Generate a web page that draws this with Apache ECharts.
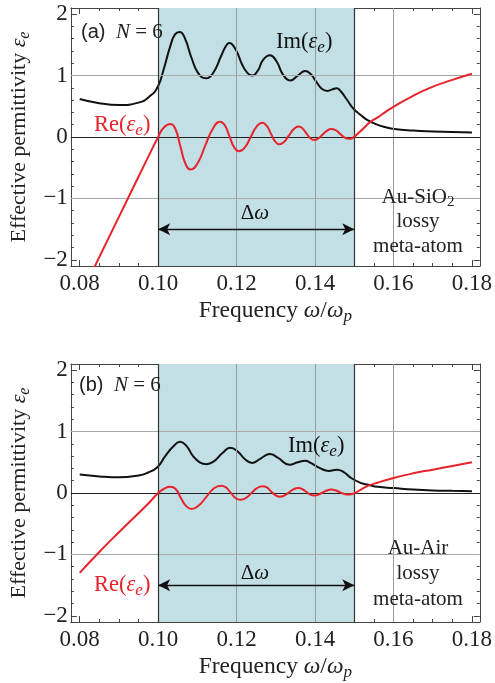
<!DOCTYPE html>
<html><head><meta charset="utf-8">
<script src="https://cdn.jsdelivr.net/npm/echarts@6/dist/echarts.min.js"></script>
<style>html,body{margin:0;padding:0;background:#fff}#c{width:495px;height:683px}</style>
</head><body><div id="c"></div>
<script>
// ---------- tick / grid data ----------
const xMajor = [0.08, 0.10, 0.12, 0.14, 0.16, 0.18];
const xMinor = [0.085, 0.09, 0.095, 0.105, 0.11, 0.115, 0.125, 0.13, 0.135, 0.145, 0.15, 0.155, 0.165, 0.17, 0.175];
const yMajor = [-2, -1, 0, 1, 2];
const yMinor = [-1.8, -1.6, -1.4, -1.2, -0.8, -0.6, -0.4, -0.2, 0.2, 0.4, 0.6, 0.8, 1.2, 1.4, 1.6, 1.8];
const xGridLines = [0.12, 0.14, 0.16];
const yGridLines = [-1, 1];
const bandRange = [0.10, 0.15];
const arrowY = -1.5;

// ---------- panel (a): Au-SiO2  [frequency, value] ----------
const imA = [[0.08,0.62],[0.085,0.55],[0.09,0.52],[0.095,0.56],[0.098,0.67],[0.10,0.83],[0.1014,1.10],[0.1031,1.48],[0.1043,1.67],[0.1055,1.71],[0.1068,1.61],[0.1085,1.29],[0.1102,1.04],[0.1121,0.955],[0.1139,1.03],[0.116,1.31],[0.1171,1.46],[0.1181,1.53],[0.1198,1.42],[0.1214,1.18],[0.1228,1.04],[0.1240,1.00],[0.1254,1.08],[0.1268,1.26],[0.1285,1.33],[0.1302,1.23],[0.1318,1.02],[0.1337,0.92],[0.1356,1.00],[0.1375,1.075],[0.1388,1.03],[0.1402,0.91],[0.1418,0.78],[0.1432,0.75],[0.1444,0.775],[0.1455,0.795],[0.1466,0.74],[0.1481,0.61],[0.1498,0.46],[0.1518,0.35],[0.1535,0.27],[0.1555,0.21],[0.158,0.16],[0.1602,0.13],[0.165,0.105],[0.17,0.09],[0.175,0.08],[0.18,0.075]];
const reA = [[0.08,-2.61],[0.09,-1.30],[0.0975,-0.32],[0.10,0.0],[0.1014,0.15],[0.1031,0.21],[0.1044,0.13],[0.1057,-0.16],[0.1070,-0.44],[0.1083,-0.53],[0.1102,-0.41],[0.1120,-0.14],[0.1139,0.13],[0.1158,0.25],[0.1170,0.19],[0.1182,0.01],[0.1194,-0.17],[0.1206,-0.23],[0.1221,-0.17],[0.1236,0.0],[0.1251,0.17],[0.1266,0.23],[0.1277,0.18],[0.12875,0.055],[0.1298,-0.07],[0.1309,-0.12],[0.1321,-0.08],[0.13335,0.025],[0.1346,0.13],[0.1358,0.17],[0.1368,0.14],[0.1378,0.06],[0.1388,-0.02],[0.1398,-0.05],[0.1409,-0.02],[0.14195,0.04],[0.1430,0.10],[0.1441,0.13],[0.14525,0.11],[0.1464,0.05],[0.14755,-0.01],[0.1487,-0.03],[0.1497,-0.01],[0.1508,0.05],[0.1522,0.13],[0.1540,0.24],[0.1560,0.32],[0.158,0.41],[0.1602,0.50],[0.165,0.67],[0.1693,0.80],[0.175,0.93],[0.18,1.03]];

// ---------- panel (b): Au-Air  [frequency, value] ----------
const imB = [[0.08,0.30],[0.085,0.27],[0.09,0.255],[0.095,0.285],[0.0973,0.33],[0.0998,0.42],[0.1018,0.60],[0.1039,0.76],[0.1056,0.835],[0.1073,0.76],[0.1089,0.60],[0.1106,0.50],[0.1123,0.47],[0.1143,0.52],[0.1164,0.65],[0.1184,0.735],[0.1202,0.68],[0.1223,0.54],[0.1240,0.49],[0.1262,0.565],[0.1285,0.635],[0.1306,0.57],[0.1335,0.46],[0.1356,0.50],[0.1375,0.525],[0.1389,0.49],[0.1414,0.40],[0.1435,0.36],[0.1456,0.38],[0.1473,0.34],[0.1493,0.24],[0.1518,0.16],[0.1535,0.135],[0.156,0.10],[0.16,0.08],[0.165,0.055],[0.17,0.04],[0.175,0.035],[0.18,0.03]];
const reB = [[0.08,-1.30],[0.085,-0.96],[0.09,-0.64],[0.0975,-0.17],[0.10,0.0],[0.1014,0.065],[0.1031,0.10],[0.1044,0.07],[0.1058,-0.08],[0.1071,-0.21],[0.1085,-0.26],[0.1104,-0.20],[0.1122,-0.07],[0.1141,0.07],[0.116,0.12],[0.1172,0.095],[0.1185,0.005],[0.1197,-0.08],[0.121,-0.11],[0.1224,-0.08],[0.1238,0.0],[0.1252,0.08],[0.1266,0.11],[0.1277,0.09],[0.1288,0.025],[0.1299,-0.035],[0.131,-0.06],[0.1322,-0.04],[0.13335,0.01],[0.1345,0.06],[0.1357,0.08],[0.1367,0.065],[0.13775,0.02],[0.1388,-0.025],[0.1398,-0.04],[0.1409,-0.025],[0.14195,0.008],[0.1430,0.04],[0.1441,0.055],[0.14515,0.045],[0.14625,0.015],[0.1473,-0.013],[0.1484,-0.025],[0.1495,-0.015],[0.1505,0.01],[0.1518,0.06],[0.1535,0.115],[0.156,0.17],[0.16,0.245],[0.165,0.32],[0.17,0.38],[0.175,0.44],[0.18,0.50]];

const SERIF = "'Liberation Serif','Times New Roman','DejaVu Serif',serif";
const SANS = "'Liberation Sans',Arial,sans-serif";
const XMIN = 0.07775, XMAX = 0.182, YMIN = -2.1, YMAX = 2.1;
const FRAME = '#444';
const RED = '#e8232b';
const BLACK = '#111';
const BAND = '#c2dfe5';

function makeRich(main, sub) {
  return {
    n: { fontFamily: SERIF, fontSize: main, lineHeight: main + 5 },
    i: { fontFamily: SERIF, fontSize: main, fontStyle: 'italic', lineHeight: main + 5 },
    s: { fontFamily: SERIF, fontSize: sub, fontStyle: 'italic', lineHeight: sub, verticalAlign: 'bottom' },
    r: { fontFamily: SERIF, fontSize: sub, lineHeight: sub, verticalAlign: 'bottom' },
    sa: { fontFamily: SANS, fontSize: main - 1, lineHeight: main + 5 }
  };
}
const richAnn = makeRich(21, 15);
const richCurve = makeRich(22.5, 17);
const richX = makeRich(23.5, 17);
const richY = makeRich(22, 16);

const grids = [
  { left: 67, top: 8, width: 417, height: 258 },
  { left: 67, top: 364, width: 417, height: 258 }
];

const xAxes = [], yAxes = [];
grids.forEach((g, gi) => {
  const base = { type: 'value', gridIndex: gi, min: XMIN, max: XMAX, splitLine: { show: false } };
  xAxes.push(Object.assign({}, base, {
    position: 'bottom',
    axisLine: { show: true, onZero: false, lineStyle: { color: FRAME, width: 1 } },
    axisTick: { show: true, inside: true, length: 6, customValues: xMajor, lineStyle: { color: FRAME } },
    axisLabel: { show: true, customValues: xMajor, formatter: v => v.toFixed(2), fontFamily: SERIF, fontSize: 23, color: '#222', margin: 6 },
    name: '{n|Frequency }{i|ω}{n|/}{i|ω}{s|p}',
    nameLocation: 'middle', nameGap: 31,
    nameTextStyle: { color: '#222', rich: richX }
  }));
  xAxes.push(Object.assign({}, base, {
    position: 'bottom',
    axisLine: { show: false, onZero: false },
    axisTick: { show: true, inside: true, length: 3, customValues: xMinor, lineStyle: { color: FRAME } },
    axisLabel: { show: false }
  }));
  xAxes.push(Object.assign({}, base, {
    position: 'top',
    axisLine: { show: true, onZero: false, lineStyle: { color: FRAME, width: 1 } },
    axisTick: { show: true, inside: true, length: 6, customValues: xMajor, lineStyle: { color: FRAME } },
    axisLabel: { show: false }
  }));
  xAxes.push(Object.assign({}, base, {
    position: 'top',
    axisLine: { show: false, onZero: false },
    axisTick: { show: true, inside: true, length: 3, customValues: xMinor, lineStyle: { color: FRAME } },
    axisLabel: { show: false }
  }));
  const ybase = { type: 'value', gridIndex: gi, min: YMIN, max: YMAX, splitLine: { show: false } };
  yAxes.push(Object.assign({}, ybase, {
    position: 'left',
    axisLine: { show: true, onZero: false, lineStyle: { color: FRAME, width: 1 } },
    axisTick: { show: true, inside: true, length: 6, customValues: yMajor, lineStyle: { color: FRAME } },
    axisLabel: { show: true, customValues: yMajor, formatter: v => (v < 0 ? '\u2212' + Math.abs(v) : String(v)), fontFamily: SERIF, fontSize: 23, color: '#222', margin: 3 },
    name: '{n|Effective permittivity }{i|ε}{s|e}',
    nameLocation: 'middle', nameGap: 34, nameRotate: 90,
    nameTextStyle: { color: '#222', rich: richY }
  }));
  yAxes.push(Object.assign({}, ybase, {
    position: 'left',
    axisLine: { show: false, onZero: false },
    axisTick: { show: true, inside: true, length: 3, customValues: yMinor, lineStyle: { color: FRAME } },
    axisLabel: { show: false }
  }));
  yAxes.push(Object.assign({}, ybase, {
    position: 'right',
    axisLine: { show: true, onZero: false, lineStyle: { color: FRAME, width: 1 } },
    axisTick: { show: true, inside: true, length: 6, customValues: yMajor, lineStyle: { color: FRAME } },
    axisLabel: { show: false }
  }));
  yAxes.push(Object.assign({}, ybase, {
    position: 'right',
    axisLine: { show: false, onZero: false },
    axisTick: { show: true, inside: true, length: 3, customValues: yMinor, lineStyle: { color: FRAME } },
    axisLabel: { show: false }
  }));
});

const panels = [
  { im: imA, re: reA },
  { im: imB, re: reB }
];

const series = [];
panels.forEach((p, gi) => {
  const ax = { xAxisIndex: gi * 4, yAxisIndex: gi * 4 };
  series.push(Object.assign({
    type: 'line', data: [], z: 1, silent: true,
    markArea: { silent: true, itemStyle: { color: BAND }, data: [[{ xAxis: bandRange[0] }, { xAxis: bandRange[1] }]] }
  }, ax));
  const lines = [];
  xGridLines.forEach(v => lines.push({ xAxis: v, lineStyle: { color: '#9a9a9a', width: 1, type: 'solid' } }));
  yGridLines.forEach(v => lines.push({ yAxis: v, lineStyle: { color: '#a8a8a8', width: 1, type: 'solid' } }));
  lines.push({ yAxis: 0, lineStyle: { color: '#222', width: 1.2, type: 'solid' } });
  bandRange.forEach(v => lines.push({ xAxis: v, lineStyle: { color: '#333', width: 1.2, type: 'solid' } }));
  series.push(Object.assign({
    type: 'line', data: [], z: 2, silent: true,
    markLine: { silent: true, symbol: 'none', label: { show: false }, animation: false, data: lines }
  }, ax));
  series.push(Object.assign({
    type: 'line', data: [], z: 3, silent: true,
    markLine: {
      silent: true, symbol: ['arrow', 'arrow'], symbolSize: [9, 12], label: { show: false }, animation: false,
      lineStyle: { color: BLACK, width: 1.3, type: 'solid' },
      data: [[{ coord: [bandRange[0], arrowY] }, { coord: [bandRange[1], arrowY] }]]
    }
  }, ax));
  series.push(Object.assign({
    type: 'line', name: 'Im', data: p.im, z: 4, showSymbol: false, smooth: 0.5,
    lineStyle: { color: BLACK, width: 2 }, itemStyle: { color: BLACK }
  }, ax));
  series.push(Object.assign({
    type: 'line', name: 'Re', data: p.re, z: 5, showSymbol: false, smooth: 0.5,
    lineStyle: { color: RED, width: 2 }, itemStyle: { color: RED }
  }, ax));
});

function txt(x, y, text, color, align, rich) {
  return {
    type: 'text', x: x, y: y, z: 100, silent: true,
    style: { text: text, fill: color || '#222', align: align || 'left', verticalAlign: 'middle', rich: rich || richAnn, font: '21px ' + SERIF }
  };
}

const graphics = [
  // panel (a)
  txt(81, 32, '{sa|(a)}{n|  }{i|N}{n| = 6}'),
  txt(276, 42, '{n|Im(}{i|ε}{s|e}{n|)}', '#111', 'left', richCurve),
  txt(94, 125, '{n|Re(}{i|ε}{s|e}{n|)}', RED, 'left', richCurve),
  txt(255, 213, '{n|Δ}{i|ω}', '#111', 'center'),
  txt(418, 197, '{n|Au-SiO}{r|2}', '#222', 'center'),
  txt(418, 221, '{n|lossy}', '#222', 'center'),
  txt(418, 246, '{n|meta-atom}', '#222', 'center'),
  // panel (b)
  txt(79, 385, '{sa|(b)}{n|  }{i|N}{n| = 6}'),
  txt(288, 446, '{n|Im(}{i|ε}{s|e}{n|)}', '#111', 'left', richCurve),
  txt(94, 585, '{n|Re(}{i|ε}{s|e}{n|)}', RED, 'left', richCurve),
  txt(255, 573, '{n|Δ}{i|ω}', '#111', 'center'),
  txt(418, 548, '{n|Au-Air}', '#222', 'center'),
  txt(418, 573, '{n|lossy}', '#222', 'center'),
  txt(418, 599, '{n|meta-atom}', '#222', 'center')
];

const chart = echarts.init(document.getElementById('c'), null, { renderer: 'canvas' });
chart.setOption({
  animation: false,
  backgroundColor: '#fff',
  grid: grids,
  xAxis: xAxes,
  yAxis: yAxes,
  series: series,
  graphic: graphics
});
</script></body></html>
